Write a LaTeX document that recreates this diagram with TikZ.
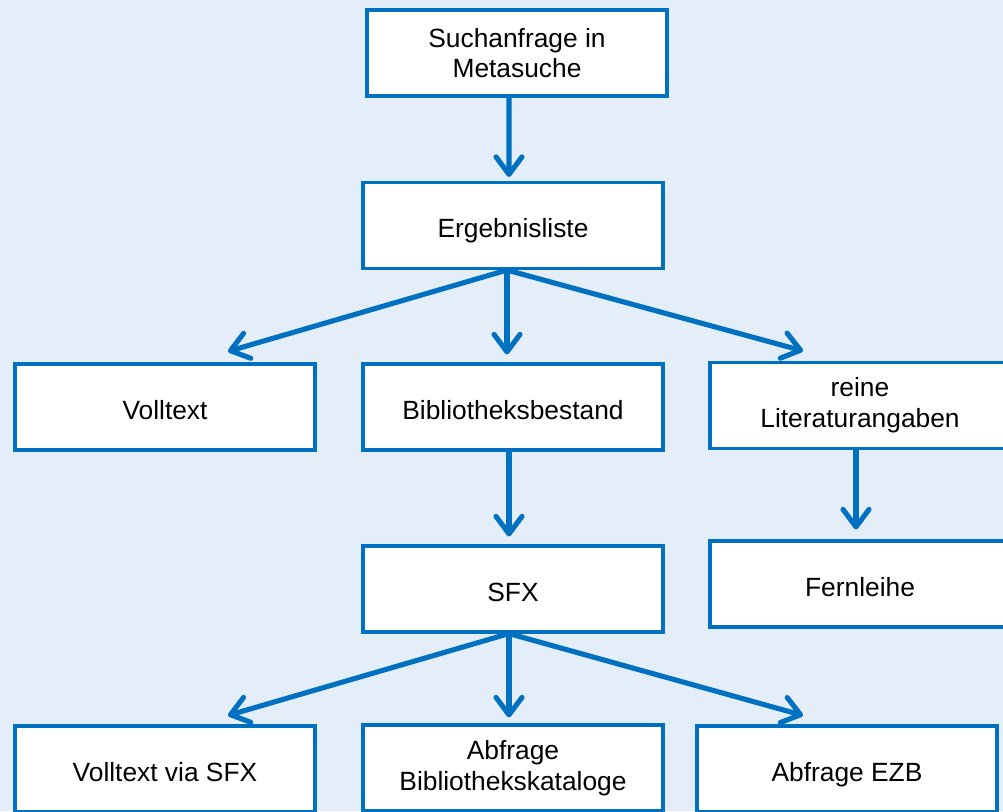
\documentclass[tikz,border=0pt]{standalone}
\usepackage{fontspec}
\setmainfont{Liberation Sans}
\usetikzlibrary{arrows.meta}
\definecolor{bgblue}{HTML}{E4EEF8}
\definecolor{boxblue}{HTML}{0070C0}
\begin{document}
\begin{tikzpicture}[x=0.02cm, y=-0.02cm,
    stepbox/.style={draw=boxblue, line width=1.8pt, fill=white, minimum width=6cm,
      minimum height=1.72cm, align=center, font=\fontsize{15}{17.5}\selectfont},
    oneline/.style={stepbox, text height=14pt, text depth=0pt},
    flow/.style={draw=boxblue, line width=2.9pt,
      -{Straight Barb[length=3.5mm, width=5.2mm, line cap=round, line join=round]}}]
		\clip (0,0) rectangle (1003,811);
		\fill[bgblue] (0,0) rectangle (1003,811);

		\node[stepbox] (suche) at (517,53) {Suchanfrage in\\Metasuche};
		\node[oneline] (liste) at (513,225.5) {Ergebnisliste};
		\node[oneline] (voll) at (165,407) {Volltext};
		\node[oneline] (bestand) at (513,407) {Bibliotheksbestand};
		\node[stepbox] (litang) at (860,405.5) {reine\\Literaturangaben};
		\node[oneline] (sfx) at (513,589) {SFX};
		\node[oneline] (fern) at (860,584) {Fernleihe};
		\node[oneline] (vollsfx) at (165,769) {Volltext via SFX};
		\node[stepbox] (katalog) at (513,768) {Abfrage\\Bibliothekskataloge};
		\node[oneline] (ezb) at (847,769) {Abfrage EZB};

		\draw[flow] ([xshift=-0.16cm]suche.south) -- ([xshift=-0.08cm,yshift=0.08cm]liste.north);

		\draw[flow] ([xshift=-0.12cm]liste.south) -- ([xshift=1.26cm,yshift=0.22cm]voll.north);
		\draw[flow] ([xshift=-0.12cm]liste.south) -- ([xshift=-0.12cm,yshift=0.16cm]bestand.north);
		\draw[flow] ([xshift=-0.12cm]liste.south) -- ([xshift=-1.14cm,yshift=0.2cm]litang.north);

		\draw[flow] ([xshift=-0.08cm]bestand.south) -- ([xshift=-0.08cm,yshift=0.16cm]sfx.north);
		\draw[flow] ([xshift=-0.08cm]litang.south) -- ([xshift=-0.08cm,yshift=0.2cm]fern.north);

		\draw[flow] ([xshift=-0.08cm]sfx.south) -- ([xshift=1.26cm,yshift=0.18cm]vollsfx.north);
		\draw[flow] ([xshift=-0.08cm]sfx.south) -- ([xshift=-0.08cm,yshift=0.12cm]katalog.north);
		\draw[flow] ([xshift=-0.08cm]sfx.south) -- ([xshift=-0.88cm,yshift=0.18cm]ezb.north);
	\end{tikzpicture}
\end{document}
